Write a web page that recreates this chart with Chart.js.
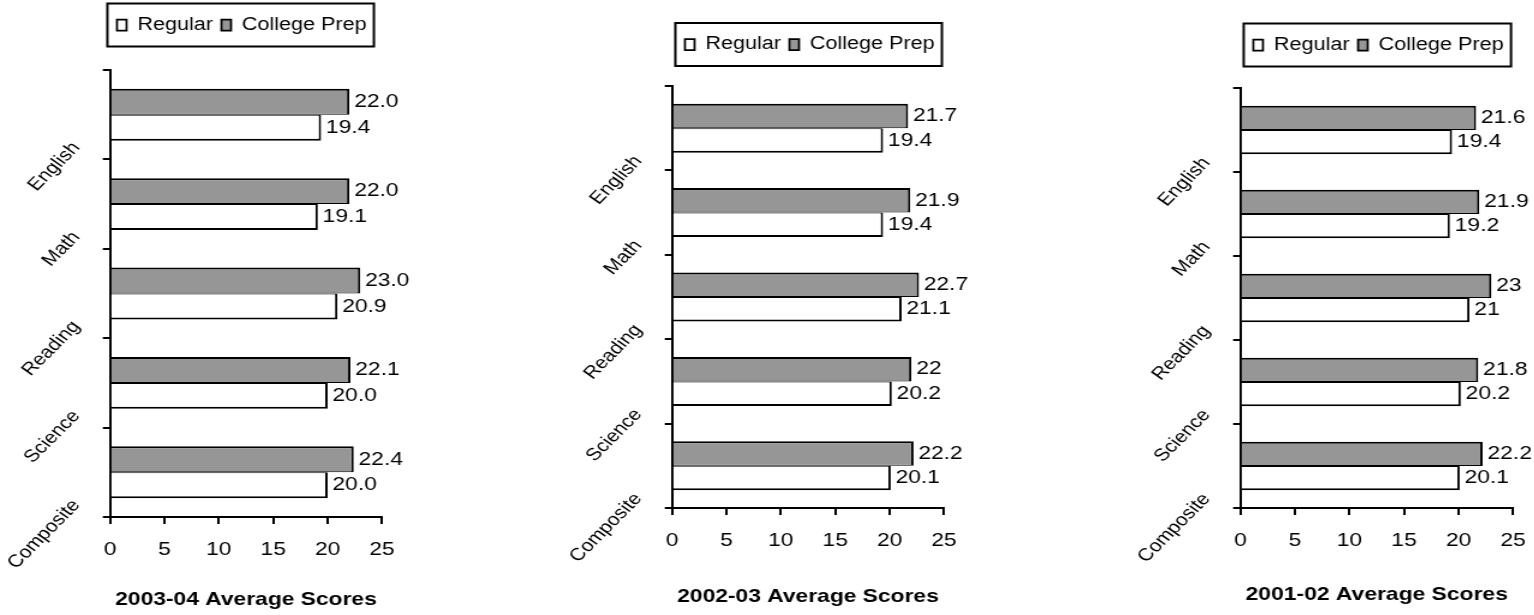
<!DOCTYPE html>
<html>
<head>
<meta charset="utf-8">
<title>Average Scores</title>
<script src="https://cdn.jsdelivr.net/npm/chart.js@4.4.0/dist/chart.umd.min.js"></script>
<style>
  html, body { margin: 0; padding: 0; background: #fff; overflow: hidden; }
  body { width: 1534px; height: 615px; position: relative; }
  .panel { position: absolute; top: 0; height: 615px; transform-origin: 0 0; }
</style>
</head>
<body>
<div class="panel" id="panel0"><canvas id="chart0"></canvas></div>
<div class="panel" id="panel1"><canvas id="chart1"></canvas></div>
<div class="panel" id="panel2"><canvas id="chart2"></canvas></div>
<script>
// categories and tick values
var subjects = ['English', 'Math', 'Reading', 'Science', 'Composite'];
var seriesNames = ['Regular', 'College Prep'];
var xTicks = [0, 5, 10, 15, 20, 25];

// scores per year
var regular0304 = [19.4, 19.1, 20.9, 20.0, 20.0];
var prep0304    = [22.0, 22.0, 23.0, 22.1, 22.4];
var regular0203 = [19.4, 19.4, 21.1, 20.2, 20.1];
var prep0203    = [21.7, 21.9, 22.7, 22, 22.2];
var regular0102 = [19.4, 19.2, 21, 20.2, 20.1];
var prep0102    = [21.6, 21.9, 23, 21.8, 22.2];

var chartTitles = ['2003-04 Average Scores', '2002-03 Average Scores', '2001-02 Average Scores'];
var labelDecimals = [1, null, null];

// text is drawn wide, so each panel is drawn narrow and stretched
var STRETCH = 1.2;
var panelLayout = [
  { left: 0,    width: 450, plotLeft: 110,  plotRight: 382,  legendTop: 9,    legendGap: 26,   plotBottom: 517, titlePad: 3.6, legendShift: 5.8 },
  { left: 562,  width: 450, plotLeft: 672,  plotRight: 944,  legendTop: 28.5, legendGap: 22.5, plotBottom: 508, titlePad: 6.6, legendShift: 10.8 },
  { left: 1130, width: 404, plotLeft: 1240, plotRight: 1512, legendTop: 29,   legendGap: 24,   plotBottom: 508, titlePad: 8.6, legendShift: 10.8 }
];
var panelSeries = [
  [regular0304, prep0304],
  [regular0203, prep0203],
  [regular0102, prep0102]
];

var GRAY = '#969696';
var FONT = "'Liberation Sans', Arial, sans-serif";
Chart.defaults.font.family = FONT;
Chart.defaults.color = '#000';

// legend: extra room below it, moved next to the axis
var legendPlacement = {
  id: 'legendPlacement',
  beforeInit: function(chart, args, opts) {
    var fit = chart.legend.fit;
    chart.legend.fit = function() {
      fit.call(this);
      this.height += opts.gap;
    };
  },
  afterLayout: function(chart, args, opts) {
    var legend = chart.legend;
    legend.left = chart.chartArea.left + opts.shift - legend.options.labels.padding;
    legend.right = chart.width;
  }
};

// frame round the legend
var legendFrame = {
  id: 'legendFrame',
  afterDraw: function(chart) {
    var boxes = chart.legend.legendHitBoxes;
    if (!boxes || !boxes.length) return;
    var first = boxes[0], last = boxes[boxes.length - 1];
    var mid = first.top + first.height / 2;
    var ctx = chart.ctx;
    ctx.save();
    ctx.strokeStyle = '#000';
    ctx.lineWidth = 2;
    ctx.strokeRect(first.left - 8, mid - 21.5, last.left + last.width + 6 - (first.left - 8), 43);
    ctx.restore();
  }
};

// value labels at the bar ends
var barValueLabels = {
  id: 'barValueLabels',
  afterDatasetsDraw: function(chart, args, opts) {
    var ctx = chart.ctx;
    ctx.save();
    ctx.font = '19px ' + FONT;
    ctx.fillStyle = '#000';
    ctx.textAlign = 'left';
    ctx.textBaseline = 'middle';
    chart.data.datasets.forEach(function(ds, i) {
      chart.getDatasetMeta(i).data.forEach(function(bar, j) {
        var v = ds.data[j];
        var text = opts.decimals == null ? String(v) : v.toFixed(opts.decimals);
        ctx.fillText(text, bar.x + 4, bar.y);
      });
    });
    ctx.restore();
  }
};

panelLayout.forEach(function(p, i) {
  var wrap = document.getElementById('panel' + i);
  wrap.style.left = p.left + 'px';
  wrap.style.width = (p.width / STRETCH) + 'px';
  wrap.style.transform = 'scaleX(' + STRETCH + ')';

  var yAxisWidth = (p.plotLeft - p.left) / STRETCH;
  var padRight = (p.left + p.width - p.plotRight) / STRETCH;
  var xAxisHeight = 615 - p.plotBottom;
  var regular = panelSeries[i][0], prep = panelSeries[i][1];

  new Chart(document.getElementById('chart' + i), {
    type: 'bar',
    data: {
      labels: subjects,
      datasets: [{
        label: seriesNames[1],
        data: prep,
        backgroundColor: GRAY,
        borderColor: '#000',
        borderWidth: { top: 2, right: 2, bottom: 1, left: 2 }
      }, {
        label: seriesNames[0],
        data: regular,
        backgroundColor: '#fff',
        borderColor: '#000',
        borderWidth: { top: 1, right: 2, bottom: 2, left: 2 }
      }]
    },
    options: {
      indexAxis: 'y',
      responsive: true,
      maintainAspectRatio: false,
      animation: false,
      events: [],
      categoryPercentage: 0.58,
      barPercentage: 1,
      layout: { padding: { top: p.legendTop, left: 0, right: padRight, bottom: 0 } },
      scales: {
        x: {
          min: xTicks[0],
          max: xTicks[xTicks.length - 1],
          ticks: { stepSize: xTicks[1] - xTicks[0], font: { size: 19 }, color: '#000', padding: 14.5 },
          grid: { drawOnChartArea: false, color: '#000', lineWidth: 2, tickLength: 7 },
          border: { color: '#000', width: 2 },
          title: {
            display: true,
            text: chartTitles[i],
            color: '#000',
            font: { size: 19, weight: 'bold' },
            padding: { top: 0, bottom: p.titlePad }
          },
          afterFit: function(scale) {
            scale.height = xAxisHeight;
            scale.paddingLeft = 0;
            scale.paddingRight = 0;
          }
        },
        y: {
          offset: true,
          grid: { offset: true, drawOnChartArea: false, color: '#000', lineWidth: 2, tickLength: 6 },
          border: { color: '#000', width: 2 },
          ticks: {
            autoSkip: false,
            minRotation: 50,
            maxRotation: 50,
            font: { size: 17.5 },
            color: '#000',
            padding: 22,
            labelOffset: 30
          },
          afterFit: function(scale) {
            scale.width = yAxisWidth;
            scale.paddingTop = 0;
            scale.paddingBottom = 0;
          }
        }
      },
      plugins: {
        legend: {
          position: 'top',
          align: 'start',
          reverse: true,
          labels: { boxWidth: 8, boxHeight: 11, padding: 7, font: { size: 18 }, color: '#000' }
        },
        tooltip: { enabled: false },
        legendPlacement: { gap: p.legendGap, shift: p.legendShift },
        barValueLabels: { decimals: labelDecimals[i] }
      }
    },
    plugins: [legendPlacement, legendFrame, barValueLabels]
  });
});
</script>
</body>
</html>
